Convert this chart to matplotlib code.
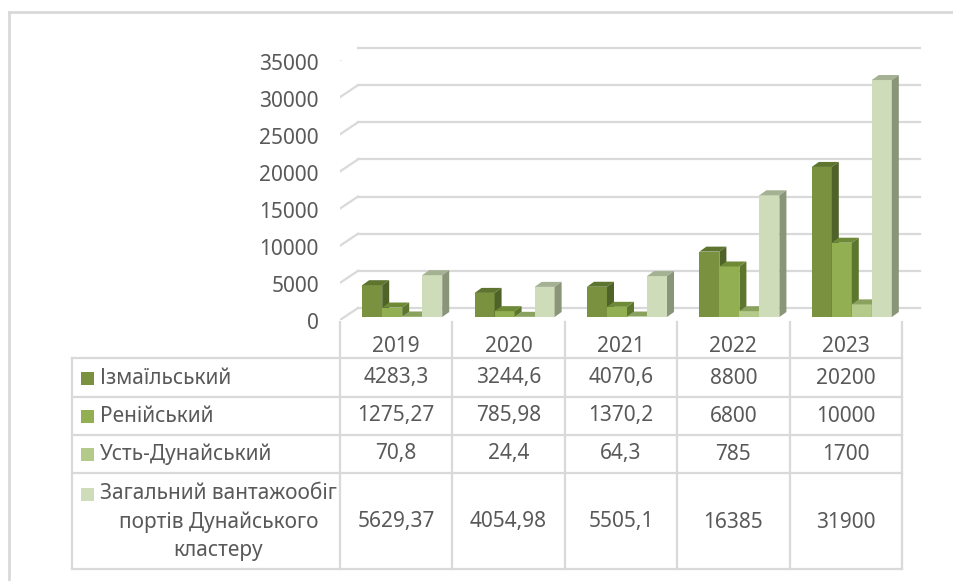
import matplotlib
matplotlib.use('Agg')
import matplotlib.pyplot as plt
import matplotlib.transforms as mtransforms
from matplotlib.patches import Polygon, Rectangle
from matplotlib.lines import Line2D

######################################## Дані ##########################################################################
years = ['2019', '2020', '2021', '2022', '2023']
series_names = ['Ізмаїльський', 'Ренійський', 'Усть-Дунайський',
                'Загальний вантажообіг\nпортів Дунайського\nкластеру']
izmail = [4283.3, 3244.6, 4070.6, 8800, 20200]
reni = [1275.27, 785.98, 1370.2, 6800, 10000]
ust_dunaisk = [70.8, 24.4, 64.3, 785, 1700]
total = [5629.37, 4054.98, 5505.1, 16385, 31900]
yticks = [0, 5000, 10000, 15000, 20000, 25000, 30000, 35000]
########################################################################################################################

series = [izmail, reni, ust_dunaisk, total]
front_colors = ['#7A923F', '#92AF51', '#B3CA8A', '#CFDCB9']
top_colors = ['#5E752F', '#6E8A37', '#8AA25E', '#A4B193']
side_colors = ['#4F6228', '#5C772D', '#7F9660', '#8A9479']
grid_color = '#D9D9D9'
text_color = '#595959'

plt.rcParams['font.family'] = ['Noto Sans', 'DejaVu Sans']
plt.rcParams['font.size'] = 15

W, H = 954, 581
fig = plt.figure(figsize=(W / 100, H / 100), dpi=100)


def fx(px):
    return px / W


def fy(py):
    return 1 - py / H


def shift(dx, dy):
    # зсув у пікселях (dpi = 100)
    return mtransforms.ScaledTranslation(dx / 100, dy / 100, fig.dpi_scale_trans)


# передня площина діаграми
ax = fig.add_axes([fx(340), fy(320), fx(902) - fx(340), (320 - 60) / H])
ax.set_xlim(-0.5, 4.5)
ax.set_ylim(0, 35000)
ax.set_axis_off()

back_trans = ax.transData + shift(18, 12)
bar_trans = ax.transData + shift(6, 3)
ident = mtransforms.IdentityTransform()

# сітка на задній стінці + діагоналі бічної стінки
for v in yticks:
    ax.plot([-0.5, 4.5], [v, v], transform=back_trans, color=grid_color, lw=1.6, clip_on=False, zorder=1)
    p0 = ax.transData.transform((-0.5, v))
    p1 = back_trans.transform((-0.5, v))
    ax.add_line(Line2D([p0[0], p1[0]], [p0[1], p1[1]], transform=ident, color=grid_color, lw=1.6, zorder=1))
    ax.text(-0.5, v, str(v), transform=ax.transData + shift(-21, -4), ha='right', va='center',
            color=text_color, fontsize=15)

# 3D стовпці
w = 0.178
dep = (7, 5)
z = 2
for i in range(len(years)):
    for k, vals in enumerate(series):
        x0 = i - 2 * w + k * w
        x1 = x0 + w
        h = vals[i]
        ax.add_patch(Rectangle((x0, 0), w, h, transform=bar_trans, facecolor=front_colors[k], lw=0,
                               clip_on=False, zorder=z))
        A = bar_trans.transform((x0, h))
        B = bar_trans.transform((x1, h))
        C = bar_trans.transform((x1, 0))
        top = [A, B, (B[0] + dep[0], B[1] + dep[1]), (A[0] + dep[0], A[1] + dep[1])]
        side = [C, B, (B[0] + dep[0], B[1] + dep[1]), (C[0] + dep[0], C[1] + dep[1])]
        ax.add_patch(Polygon(top, closed=True, transform=ident, facecolor=top_colors[k], lw=0, zorder=z + 0.001))
        ax.add_patch(Polygon(side, closed=True, transform=ident, facecolor=side_colors[k], lw=0, zorder=z + 0.002))
        z += 0.01

# таблиця даних
col_trans = mtransforms.blended_transform_factory(ax.transData, fig.transFigure)
row_lines = [358, 397, 435, 473, 569]
for py in row_lines:
    fig.add_artist(Line2D([fx(72), fx(902)], [fy(py), fy(py)], color=grid_color, lw=1.6))
fig.add_artist(Line2D([fx(72), fx(72)], [fy(358), fy(569)], color=grid_color, lw=1.6))
for i in range(len(years) + 1):
    fig.add_artist(Line2D([i - 0.5, i - 0.5], [fy(322), fy(569)], transform=col_trans, color=grid_color, lw=1.6))

for i, yr in enumerate(years):
    fig.text(i, fy(346), yr, transform=col_trans, ha='center', va='center', color=text_color)

row_centers = [378, 416, 454, 522]
key_y = [378, 416, 454, 494]
for k, name in enumerate(series_names):
    fig.add_artist(Rectangle((fx(81), fy(key_y[k] + 6.5)), fx(13), 13 / H, transform=fig.transFigure,
                             facecolor=front_colors[k], lw=0))
    if '\n' in name:
        fig.text(fx(100), fy(row_centers[k]), name, ha='left', va='center', multialignment='center',
                 color=text_color, linespacing=1.42)
    else:
        fig.text(fx(100), fy(row_centers[k]), name, ha='left', va='center', color=text_color)
    for i, v in enumerate(series[k]):
        fig.text(i, fy(row_centers[k]), '{:g}'.format(v).replace('.', ','), transform=col_trans,
                 ha='center', va='center', color=text_color)

# рамка діаграми
fig.add_artist(Line2D([fx(9), fx(9)], [fy(12), 0], color=grid_color, lw=2))
fig.add_artist(Line2D([fx(9), 1], [fy(12), fy(12)], color=grid_color, lw=2))

fig.savefig('out.png', dpi=100)
